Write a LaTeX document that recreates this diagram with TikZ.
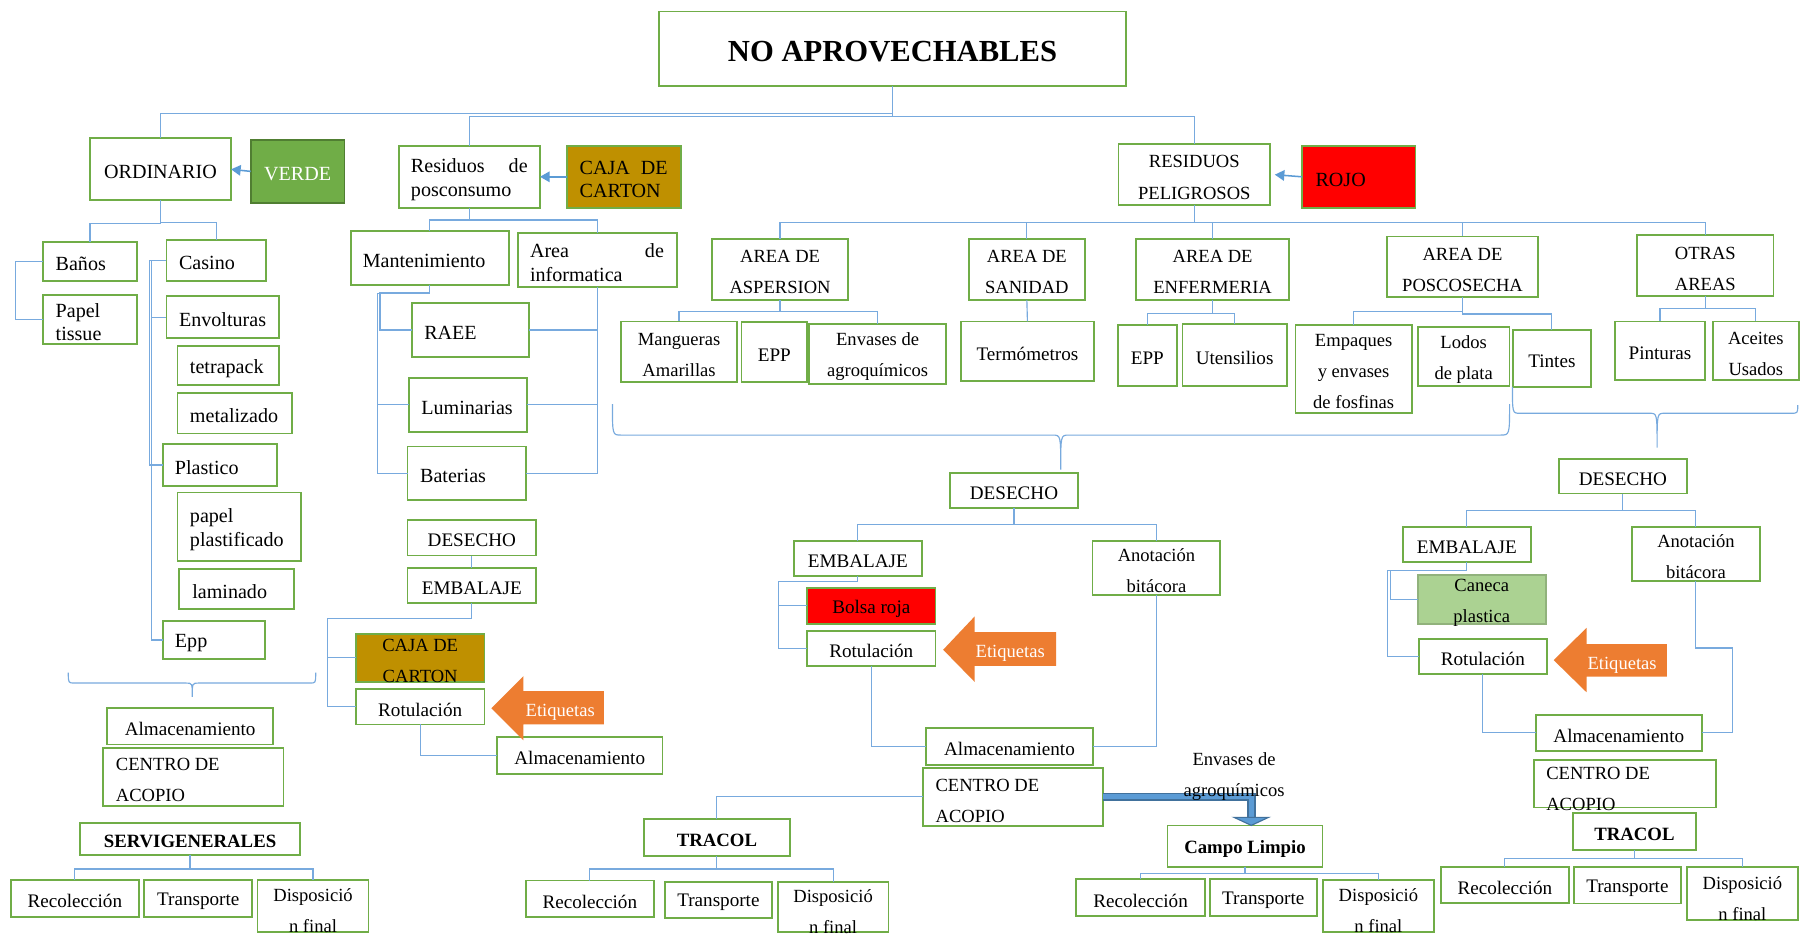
\documentclass[tikz,border=0pt]{standalone}
\usepackage{fontspec}
\setmainfont{Liberation Serif}
\usetikzlibrary{arrows.meta}

\definecolor{boxgreen}{RGB}{112,173,71}
\definecolor{lineblue}{RGB}{120,170,222}
\definecolor{tipblue}{RGB}{91,155,213}
\definecolor{deepblue}{RGB}{65,113,156}
\definecolor{verdefill}{RGB}{112,173,71}
\definecolor{verdeline}{RGB}{80,126,50}
\definecolor{gold}{RGB}{191,144,0}
\definecolor{rojo}{RGB}{255,0,0}
\definecolor{caneca}{RGB}{171,210,146}
\definecolor{naranja}{RGB}{237,125,49}

% stretch that beats the ragged-right glue: spreads a line to full width
\newcommand\jfill{\hskip 0pt plus 1fill\relax}

\tikzset{
  box/.style={draw=boxgreen, line width=0.9pt, fill=white, inner sep=0pt, outer sep=0pt},
  lbl/.style={inner sep=0pt, outer sep=0pt, align=center, text=black, yshift=-1.5pt,
              font=\fontsize{10}{12}\selectfont},
  txtbig/.style={font=\fontsize{10.5}{12.3}\selectfont},
  txtwide/.style={font=\fontsize{9.7}{16.2}\selectfont},
  txtwider/.style={font=\fontsize{9.7}{16.8}\selectfont},
  txtbold/.style={font=\fontsize{9.8}{12}\selectfont\bfseries},
  conn/.style={draw=lineblue, line width=0.6pt},
  feed/.style={draw=tipblue, line width=0.8pt, -{Triangle[length=5pt,width=5.5pt]}},
  bracket/.style={draw=lineblue, line width=0.6pt},
  tagtxt/.style={lbl, text=white, font=\fontsize{9.7}{12}\selectfont},
}

% box from corner (x1,y1) to (x2,y2), text centred
% #1 box options, #2 name, #3-#6 corners, #7 text options, #8 text
\newcommand\bx[8][]{%
  \pgfmathsetmacro\bxcx{(#3+#5)/2}%
  \pgfmathsetmacro\bxcy{(#4+#6)/2}%
  \pgfmathsetmacro\bxw{(#5-#3)*0.6}%
  \pgfmathsetmacro\bxh{(#6-#4)*0.6}%
  \node[box,minimum width=\bxw pt,minimum height=\bxh pt,#1] (#2) at (\bxcx,\bxcy) {};%
  \node[lbl,#7] (#2-t) at (#2.center) {#8};}

% same, text set flush left with a padding #7
\newcommand\bxl[9][]{%
  \pgfmathsetmacro\bxcx{(#3+#5)/2}%
  \pgfmathsetmacro\bxcy{(#4+#6)/2}%
  \pgfmathsetmacro\bxw{(#5-#3)*0.6}%
  \pgfmathsetmacro\bxh{(#6-#4)*0.6}%
  \node[box,minimum width=\bxw pt,minimum height=\bxh pt,#1] (#2) at (\bxcx,\bxcy) {};%
  \node[lbl,anchor=west,align=left,#8] (#2-t) at ([xshift=#7*0.6pt]#2.west) {#9};}

\begin{document}
\begin{tikzpicture}[x=0.6pt,y=-0.6pt]
\useasboundingbox (0,0) rectangle (1568,814);
\fill[white] (0,0) rectangle (1568,814);

% ---------- top level ----------
\bx{title}{574}{10}{981}{75}{font=\fontsize{16}{19}\selectfont\bfseries}{NO APROVECHABLES}

\bx{ord}{78.3}{120.5}{201.3}{174.5}{txtbig}{ORDINARIO}
\bx[fill=verdefill,draw=verdeline]{verde}{218.4}{122}{300}{176.6}{txtbig,text=white}{VERDE}
\bxl{resid}{347.4}{127}{470.4}{181}{10.6}{txtbig,text width=61pt}{Residuos\jfill de\\posconsumo}
\bxl[fill=gold]{caja1}{494}{127}{593.3}{181}{11}{txtbig,text width=46pt}{CAJA\jfill DE\\CARTON}
\bx{pel}{974.4}{125.7}{1106.3}{178.6}{txtwider}{RESIDUOS\\PELIGROSOS}
\bxl[fill=rojo]{rojo}{1134}{127}{1233}{181}{12}{txtbig}{ROJO}

% ---------- ordinario ----------
\bxl{banos}{37.2}{211}{119.6}{244.5}{11.3}{txtbig}{Baños}
\bxl{papel}{37.2}{257}{119.6}{299.6}{11.3}{txtbig}{Papel\\tissue}
\bxl{casino}{145}{209}{232}{244.5}{11}{txtbig}{Casino}
\bxl{env}{145}{258}{243}{294.6}{11}{txtbig}{Envolturas}
\bxl{tetra}{154.5}{301.4}{243}{335.4}{11}{txtbig}{tetrapack}
\bxl{metal}{154.5}{342.4}{254.6}{377.5}{11}{txtbig}{metalizado}
\bxl{plast}{141.7}{386.8}{241}{423.4}{10.7}{txtbig}{Plastico}
\bxl{ppl}{154.5}{429}{262.5}{488.4}{11}{txtbig}{papel\\plastificado}
\bxl{lamin}{156}{495.7}{256}{530.5}{11.5}{txtbig}{laminado}
\bxl{eppa}{141.7}{541}{230.8}{574}{10.7}{txtbig}{Epp}

\bx{alma}{93.3}{617}{238}{648.5}{}{Almacenamiento}
\bxl{cena}{90}{651.5}{247}{702}{11}{txtwide}{CENTRO DE\\ACOPIO}
\bx{serv}{69.7}{717}{261.4}{744.5}{txtbold}{SERVIGENERALES}
\bx{reca}{9.3}{766.8}{121}{798.5}{}{Recolección}
\bx{traa}{125.7}{766.8}{219.7}{798.5}{}{Transporte}
\bx{disa}{224.4}{766.8}{321}{812}{txtwide,yshift=-1pt}{Disposició\\n final}

% ---------- posconsumo ----------
\bxl{mant}{305.5}{201}{443.5}{248}{10.5}{txtbig}{Mantenimiento}
\bxl{info}{451}{202.7}{589.5}{250}{10.7}{txtbig,text width=70pt}{Area\jfill de\\informatica}
\bxl{raee}{359}{264}{460.8}{311}{10.6}{txtbig}{RAEE}
\bxl{lum}{356}{329}{459}{376}{11}{txtbig}{Luminarias}
\bxl{bat}{355}{389}{458}{435.5}{11}{txtbig}{Baterias}
\bx{desa}{355}{453}{467}{484}{}{DESECHO}
\bx{emba}{355}{495}{467}{525.5}{}{EMBALAJE}
\bx[fill=gold]{cajab}{310}{552}{422}{594}{txtwide}{CAJA DE\\CARTON}
\bx{rota}{310}{600}{422}{631}{}{Rotulación}
\bx{almb}{433}{642}{577}{674}{}{Almacenamiento}

% ---------- peligrosos ----------
\bx{asp}{620}{208}{739}{261.5}{txtwide}{AREA DE\\ASPERSION}
\bx{san}{844}{208}{945}{261.5}{txtwide}{AREA DE\\SANIDAD}
\bx{enf}{989.6}{208}{1123}{261.5}{txtwide}{AREA DE\\ENFERMERIA}
\bx{pos}{1208}{206}{1340}{259}{txtwide}{AREA DE\\POSCOSECHA}
\bx{otras}{1426}{205}{1545}{258}{txtwide}{OTRAS\\AREAS}

\bx{mang}{541}{280}{642}{333}{txtwide}{Mangueras\\Amarillas}
\bx{eppb}{646}{280.5}{703}{333}{}{EPP}
\bx{envag}{705}{282}{824}{334.5}{txtwide}{Envases de\\agroquímicos}
\bx{term}{837}{280}{953}{332}{}{Termómetros}
\bx{eppc}{974}{283}{1025}{336}{}{EPP}
\bx{uten}{1030}{282}{1121}{336}{}{Utensilios}
\bx{empq}{1128.6}{283}{1229.7}{359.5}{txtwide}{Empaques\\y envases\\de fosfinas}
\bx{lodos}{1235}{285}{1315}{336}{txtwide}{Lodos\\de plata}
\bx{tint}{1317.7}{287.5}{1386}{337}{}{Tintes}
\bx{pint}{1407}{280}{1485}{331}{}{Pinturas}
\bx{aceit}{1492}{280}{1567}{331}{txtwide}{Aceites\\Usados}

% ---------- middle branch ----------
\bx{desb}{827.6}{412}{939}{442.5}{}{DESECHO}
\bx{embb}{691.6}{471}{803}{501.8}{}{EMBALAJE}
\bx{anotb}{951.7}{471}{1063}{518}{txtwide}{Anotación\\bitácora}
\bx[fill=rojo]{bolsa}{703}{512}{815}{543.6}{}{Bolsa roja}
\bx{rotb}{703}{549.7}{815}{580}{}{Rotulación}
\bx{almc}{806.7}{634}{952}{666.6}{}{Almacenamiento}
\bxl{cenb}{804}{668.7}{961}{719.5}{11}{txtwide,yshift=-0.5pt}{CENTRO DE\\ACOPIO}
\bx{tracb}{561}{713.4}{688}{745.7}{txtbold}{TRACOL}
\bx{recb}{458}{767}{569.6}{798.5}{}{Recolección}
\bx{trab}{579}{768}{672.6}{799.7}{}{Transporte}
\bx{disb}{677.4}{768}{774}{812}{txtwide,yshift=-1pt}{Disposició\\n final}
\bx{cl}{1017}{719}{1152}{755}{txtbold}{Campo Limpio}
\bx{recc}{937.5}{766}{1049.6}{798}{}{Recolección}
\bx{trac}{1053.8}{766}{1147}{798}{}{Transporte}
\bx{disc}{1152.5}{766.6}{1249}{812}{txtwide,yshift=-1pt}{Disposició\\n final}

% ---------- right branch ----------
\bx{desc}{1357.8}{400}{1469.6}{430}{}{DESECHO}
\bx{embc}{1222}{459}{1333.6}{489.6}{}{EMBALAJE}
\bx{anotc}{1421.6}{459}{1533}{506}{txtwide}{Anotación\\bitácora}
\bx[fill=caneca,draw=caneca!85!black]{can}{1235}{501}{1346.4}{543.5}{txtwide}{Caneca\\plastica}
\bx{rotc}{1235.8}{556.6}{1347.6}{587}{}{Rotulación}
\bx{almd}{1337.7}{622.8}{1482.6}{654}{}{Almacenamiento}
\bxl{cenc}{1336}{662}{1494.8}{703.5}{11}{txtwide,yshift=-1pt}{CENTRO DE\\ACOPIO}
\bx{tracc}{1370}{708.5}{1477.5}{740.4}{txtbold}{TRACOL}
\bx{recd}{1255}{755}{1366.8}{786.8}{}{Recolección}
\bx{trad}{1371}{755}{1464.3}{787}{}{Transporte}
\bx{disd}{1469.6}{755}{1566}{801.5}{txtwide,yshift=-1pt}{Disposició\\n final}

% ---------- connectors ----------
\draw[conn] (title.south) -- ++(0,23.5) -| (ord.north);
\draw[conn] (title.south) -- ++(0,26.5) -| (resid.north);
\draw[conn] (title.south) -- ++(0,26.5) -| (pel.north);

\draw[feed] (verde.west) -- (ord.east);
\draw[feed] (caja1.west) -- (resid.east);
\draw[feed] (rojo.west) -- ([xshift=2.5pt]pel.east);

\draw[conn] (ord.south) -- ++(0,20) -| (banos.north);
\draw[conn] (ord.south) -- ++(0,19) -| (casino.north);
\draw[conn] (banos.west) -- ++(-24,0) |- (papel.west);
\draw[conn] (casino.west) -- ++(-14.6,0) |- (plast.west);
\draw[conn] (casino.west) -- ++(-13,0) |- (env.west);
\draw[conn] (casino.west) -- ++(-13,0) |- (eppa.west);

\draw[conn] (resid.south) -- ++(0,10.7) -| (mant.north);
\draw[conn] (resid.south) -- ++(0,10.7) -| (info.north);
\draw[conn] (mant.south) -- ++(0,7) -- ++(-43.5,0) |- (raee.west);
\draw[conn] (mant.south) -- ++(0,7.5) -- ++(-45.5,0) |- (lum.west);
\draw[conn] (mant.south) -- ++(0,7.5) -- ++(-45.5,0) |- (bat.west);
\draw[conn] (info.south) |- (raee.east);
\draw[conn] (info.south) |- (lum.east);
\draw[conn] (info.south) |- (bat.east);
\draw[conn] (desa.south) -- (emba.north);
\draw[conn] (emba.south) -- ++(0,13.5) -- ++(-126,0) |- (cajab.west);
\draw[conn] (emba.south) -- ++(0,13.5) -- ++(-126,0) |- (rota.west);
\draw[conn] (rota.south) |- (almb.west);

\draw[conn] (serv.south) -- ++(0,12.5) -| (reca.north);
\draw[conn] (serv.south) -- ++(0,12.5) -| (disa.north);

\foreach \k in {asp,san,enf,pos,otras}
  \draw[conn] (pel.south) -- ++(0,15) -| (\k.north);
\draw[conn] (asp.south) -- ++(0,9.5) -| (mang.north);
\draw[conn] (asp.south) -- ++(0,9.5) -| (envag.north);
\draw[conn] (san.south) -- (term.north);
\draw[conn] (enf.south) -- ++(0,11.5) -| (eppc.north);
\draw[conn] (enf.south) -- ++(0,11.5) -| (uten.north);
\draw[conn] (pos.south) -- ++(0,12) -| (empq.north);
\draw[conn] (pos.south) -- ++(0,14.5) -| (tint.north);
\draw[conn] (otras.south) -- ++(0,11) -| (pint.north);
\draw[conn] (otras.south) -- ++(0,11) -| (aceit.north);

\draw[conn] (desb.south) -- ++(0,14.5) -| (embb.north);
\draw[conn] (desb.south) -- ++(0,14.5) -| (anotb.north);
\draw[conn] (embb.south) -- ++(0,5) -- ++(-69.5,0) |- (bolsa.west);
\draw[conn] (embb.south) -- ++(0,5) -- ++(-69.5,0) |- (rotb.west);
\draw[conn] (rotb.south) |- (almc.west);
\draw[conn] (anotb.south) |- (almc.east);
\draw[conn] (cenb.west) -| (tracb.north);
\draw[conn] (tracb.south) -- ++(0,11.3) -| (recb.north);
\draw[conn] (tracb.south) -- ++(0,11.3) -| (disb.north);
\draw[conn] (cl.south) -- ++(0,6) -| (recc.north);
\draw[conn] (cl.south) -- ++(0,6) -| (disc.north);

\draw[conn] (desc.south) -- ++(0,15) -| (embc.north);
\draw[conn] (desc.south) -- ++(0,15) -| (anotc.north);
\draw[conn] (embc.south) -- ++(0,7) -- ++(-66.8,0) |- (can.west);
\draw[conn] (embc.south) -- ++(0,7) -- ++(-68.8,0) |- (rotc.west);
\draw[conn] (rotc.south) |- (almd.west);
\draw[conn] (anotc.south) -- ++(0,58.5) -- ++(32.1,0) |- (almd.east);
\draw[conn] (tracc.south) -- ++(0,7.6) -| (recd.north);
\draw[conn] (tracc.south) -- ++(0,7.6) -| (disd.north);

% thick feed from the collection centre to Campo Limpio
\coordinate (cltip) at (1090,712.5);
\draw[line width=4.4pt, draw=deepblue] (cenb.east) -| (cltip);
\draw[line width=2.6pt, draw=tipblue] (cenb.east) -| (cltip);
\filldraw[fill=tipblue, draw=deepblue, line width=0.6pt]
  (1075,712) -- (1105,712) -- (1090,719) -- cycle;
\node[lbl,txtwide] (envlbl) at (1075,674) {Envases de\\agroquímicos};

% ---------- braces ----------
\draw[bracket] (59.5,586) .. controls (59.5,595) .. (65,595) -- (162,595)
  .. controls (167.5,595) .. (167.5,607) .. controls (167.5,595) .. (173,595)
  -- (270,595) .. controls (275,595) .. (275,586);
\draw[bracket] (533.5,352) .. controls (533.5,379) .. (541,379) -- (917,379)
  .. controls (924,379) .. (924,409) .. controls (924,379) .. (931,379)
  -- (1307,379) .. controls (1315,379) .. (1315,352);
\draw[bracket] (1317.5,337) .. controls (1317.5,360) .. (1324,360) -- (1437,360)
  .. controls (1443.5,360) .. (1443.5,390) .. controls (1443.5,360) .. (1450,360)
  -- (1560,360) .. controls (1566,360) .. (1566,353);

% ---------- label arrows ----------
\fill[naranja] (428,617) -- (456,589) -- (456,602) -- (526,602) -- (526,631)
  -- (456,631) -- (456,645) -- cycle;
\node[tagtxt] (etqa) at (488,618) {Etiquetas};
\fill[naranja] (821.6,566) -- (849,537) -- (849,550.6) -- (920,550.6) -- (920,580)
  -- (849,580) -- (849,594) -- cycle;
\node[tagtxt] (etqb) at (880,567) {Etiquetas};
\fill[naranja] (1353.4,575) -- (1382,547) -- (1382,561) -- (1452,561) -- (1452,589.5)
  -- (1382,589.5) -- (1382,603) -- cycle;
\node[tagtxt] (etqc) at (1413,577) {Etiquetas};

\end{tikzpicture}
\end{document}
